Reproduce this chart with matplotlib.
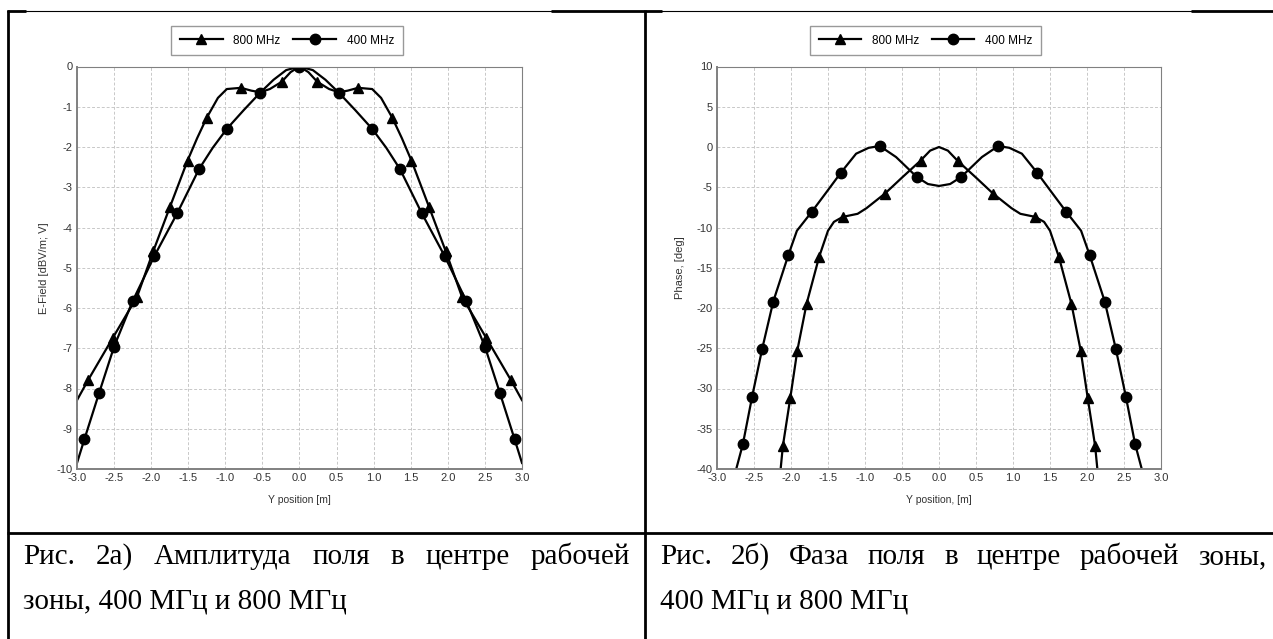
import matplotlib
matplotlib.use('Agg')
from matplotlib import pyplot as plt
from matplotlib.lines import Line2D

W, H = 1273, 639

# --- data -------------------------------------------------------------
# left panel: amplitude, E-Field [dBV/m; V] vs Y position [m]
amp_x_800 = [-3.0, -2.85, -2.52, -2.19, -1.97, -1.745, -1.51, -1.38, -1.25, -1.10, -0.98, -0.79,
             -0.65, -0.53, -0.40, -0.24, -0.12, 0.0, 0.12, 0.24, 0.40, 0.53, 0.65, 0.79, 0.98,
             1.10, 1.25, 1.38, 1.51, 1.745, 1.97, 2.19, 2.52, 2.85, 3.0]
amp_800 = [-8.29, -7.79, -6.75, -5.72, -4.58, -3.48, -2.34, -1.78, -1.27, -0.78, -0.56, -0.53,
           -0.60, -0.64, -0.56, -0.38, -0.14, 0.0, -0.14, -0.38, -0.56, -0.64, -0.60, -0.53, -0.56,
           -0.78, -1.27, -1.78, -2.34, -3.48, -4.58, -5.72, -6.75, -7.79, -8.29]
amp_marks_800 = [1, 2, 3, 4, 5, 6, 8, 11, 15, 19, 23, 26, 28, 29, 30, 31, 32, 33]

amp_x_400 = [-3.0, -2.90, -2.70, -2.50, -2.25, -1.96, -1.65, -1.355, -1.17, -0.98, -0.75, -0.53,
             -0.35, -0.18, 0.0, 0.18, 0.35, 0.53, 0.75, 0.98, 1.17, 1.355, 1.65, 1.96, 2.25,
             2.50, 2.70, 2.90, 3.0]
amp_400 = [-9.85, -9.26, -8.10, -6.96, -5.83, -4.72, -3.65, -2.55, -2.02, -1.55, -1.08, -0.65,
           -0.33, -0.09, 0.0, -0.09, -0.33, -0.65, -1.08, -1.55, -2.02, -2.55, -3.65, -4.72, -5.83,
           -6.96, -8.10, -9.26, -9.85]
amp_marks_400 = [1, 2, 3, 4, 5, 6, 7, 9, 11, 14, 17, 19, 21, 22, 23, 24, 25, 26, 27]

# right panel: phase [deg] vs Y position [m]
ph_x_800 = [-2.14, -2.11, -2.01, -1.915, -1.79, -1.62, -1.50, -1.42, -1.30, -1.10, -0.98, -0.73,
            -0.50, -0.25, -0.12, 0.0, 0.12, 0.25, 0.50, 0.73, 0.98, 1.10, 1.30, 1.42, 1.50,
            1.62, 1.79, 1.915, 2.01, 2.11, 2.14]
ph_800 = [-40.0, -37.15, -31.2, -25.3, -19.5, -13.65, -10.4, -9.3, -8.68, -8.3, -7.6, -5.78,
          -3.8, -1.7, -0.45, 0.0, -0.45, -1.7, -3.8, -5.78, -7.6, -8.3, -8.68, -9.3, -10.4,
          -13.65, -19.5, -25.3, -31.2, -37.15, -40.0]
ph_marks_800 = [1, 2, 3, 4, 5, 8, 11, 13, 17, 19, 22, 25, 26, 27, 28, 29]

ph_x_400 = [-2.74, -2.65, -2.525, -2.39, -2.24, -2.035, -1.92, -1.72, -1.52, -1.325, -1.12, -0.95,
            -0.80, -0.58, -0.30, -0.15, 0.0, 0.15, 0.30, 0.58, 0.80, 0.95, 1.12, 1.325, 1.52,
            1.72, 1.92, 2.035, 2.24, 2.39, 2.525, 2.65, 2.74]
ph_400 = [-40.0, -36.9, -31.0, -25.1, -19.2, -13.4, -10.4, -8.06, -5.6, -3.18, -0.83, -0.1,
          0.12, -1.25, -3.72, -4.6, -4.84, -4.6, -3.72, -1.25, 0.12, -0.1, -0.83, -3.18, -5.6,
          -8.06, -10.4, -13.4, -19.2, -25.1, -31.0, -36.9, -40.0]
ph_marks_400 = [1, 2, 3, 4, 5, 7, 9, 12, 14, 18, 20, 23, 25, 27, 28, 29, 30, 31]

x_ticks = [-3.0, -2.5, -2.0, -1.5, -1.0, -0.5, 0.0, 0.5, 1.0, 1.5, 2.0, 2.5, 3.0]
amp_ticks = [0, -1, -2, -3, -4, -5, -6, -7, -8, -9, -10]
ph_ticks = [10, 5, 0, -5, -10, -15, -20, -25, -30, -35, -40]

caption_a = ["Рис.", "2а)", "Амплитуда", "поля", "в", "центре", "рабочей"]
caption_a2 = "зоны, 400 МГц и 800 МГц"
caption_b = ["Рис.", "2б)", "Фаза", "поля", "в", "центре", "рабочей", "зоны,"]
caption_b2 = "400 МГц и 800 МГц"

plt.rcParams['font.family'] = ['Liberation Sans', 'DejaVu Sans']
plt.rcParams['axes.unicode_minus'] = False

fig = plt.figure(figsize=(W / 100, H / 100), dpi=100)


def rect(l, t, r, b):
    # pixel box -> figure fraction
    return [l / W, 1 - b / H, (r - l) / W, (b - t) / H]


def hline(x0, x1, y, lw):
    fig.add_artist(Line2D([x0 / W, x1 / W], [1 - y / H, 1 - y / H], color='black', lw=lw,
                          transform=fig.transFigure, solid_capstyle='butt'))


def vline(x, y0, y1, lw):
    fig.add_artist(Line2D([x / W, x / W], [1 - y0 / H, 1 - y1 / H], color='black', lw=lw,
                          transform=fig.transFigure, solid_capstyle='butt'))


def panel(box, series, xlabel, ylabel, yticks, ylim, ylab_x, legend_c):
    ax = fig.add_axes(rect(*box))
    for xs, ys, marks, m, ms, lab in series:
        ax.plot(xs, ys, color='black', lw=1.6, marker=m, ms=ms, markevery=marks, label=lab)
    ax.set_xlim(-3, 3)
    ax.set_ylim(*ylim)
    ax.set_xticks(x_ticks)
    ax.set_xticklabels(['%.1f' % v for v in x_ticks])
    ax.set_yticks(yticks)
    ax.set_yticklabels([str(v) for v in yticks])
    ax.tick_params(length=0, pad=3, labelsize=8, labelcolor='#333333')
    ax.grid(True, color='#c8c8c8', lw=0.7, linestyle=(0, (3, 2)))
    for s in ax.spines.values():
        s.set_color('#808080')
        s.set_linewidth(0.8)
    ax.spines['left'].set_linewidth(1.4)
    ax.spines['bottom'].set_linewidth(1.4)
    ax.set_xlabel(xlabel, fontsize=7.5, color='#333333', va='center')
    ax.set_ylabel(ylabel, fontsize=8, color='#333333', va='center')
    ax.xaxis.set_label_coords(0.5, -0.077)
    ax.yaxis.set_label_coords(ylab_x, 0.5)
    leg = ax.legend(loc='center', bbox_to_anchor=(legend_c[0] / W, 1 - legend_c[1] / H),
                    bbox_transform=fig.transFigure, ncol=2, fontsize=8.5, frameon=True,
                    fancybox=False, edgecolor='#808080', handlelength=3.6, handletextpad=0.9,
                    columnspacing=1.1, borderpad=0.75, borderaxespad=0)
    leg.get_frame().set_linewidth(1.0)
    return ax


panel((77, 66.5, 522, 469),
      [(amp_x_800, amp_800, amp_marks_800, '^', 7.5, '800 MHz'),
       (amp_x_400, amp_400, amp_marks_400, 'o', 7.5, '400 MHz')],
      'Y position [m]', 'E-Field [dBV/m; V]', amp_ticks, (-10, 0), -0.074, (287, 40.5))

panel((717, 66.5, 1161, 469),
      [(ph_x_800, ph_800, ph_marks_800, '^', 7.5, '800 MHz'),
       (ph_x_400, ph_400, ph_marks_400, 'o', 7.5, '400 MHz')],
      'Y position, [m]', 'Phase, [deg]', ph_ticks, (-40, 10), -0.083, (925.5, 40.5))

# table borders
vline(7.5, 10, 639, 2.0)
vline(645, 10, 639, 2.0)
hline(6.5, 1273, 533, 2.0)
hline(6.5, 1273, 11, 0.8)
hline(6.5, 26, 11, 2.0)
hline(551, 662, 11, 2.0)
hline(1191, 1273, 11, 2.0)

# captions
CAP_FS = 21
renderer = fig.canvas.get_renderer()


def justified(words, x0, x1, y):
    texts = [fig.text(x0 / W, 1 - y / H, w, fontsize=CAP_FS, family='Liberation Serif',
                      va='baseline', ha='left') for w in words]
    widths = [t.get_window_extent(renderer).width for t in texts]
    gap = (x1 - x0 - sum(widths)) / (len(words) - 1)
    x = x0
    for t, w in zip(texts, widths):
        t.set_x(x / W)
        x += w + gap


justified(caption_a, 23, 630, 564)
fig.text(23 / W, 1 - 609 / H, caption_a2, fontsize=CAP_FS, family='Liberation Serif', va='baseline')
justified(caption_b, 660, 1266, 564)
fig.text(660 / W, 1 - 609 / H, caption_b2, fontsize=CAP_FS, family='Liberation Serif', va='baseline')

fig.savefig('out.png', dpi=100)
